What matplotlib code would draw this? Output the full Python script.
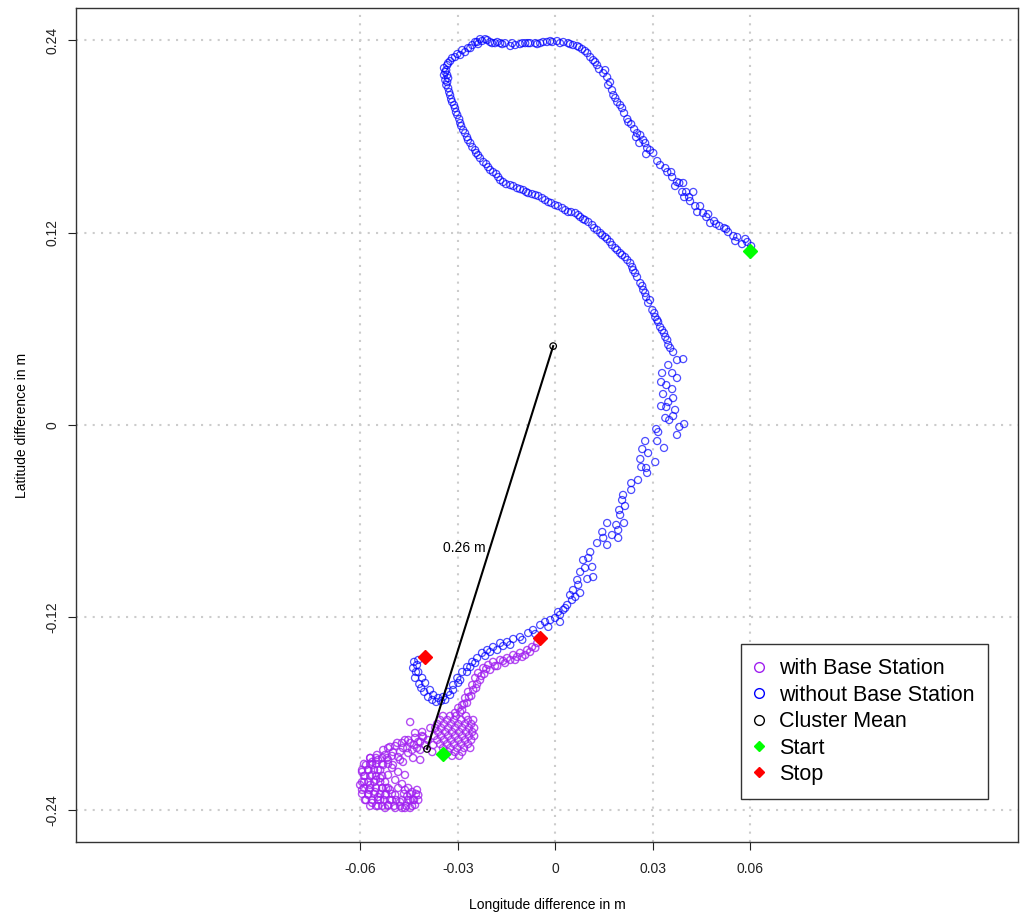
import numpy as np
import matplotlib
matplotlib.use("Agg")
import matplotlib.pyplot as plt
from matplotlib.lines import Line2D

plt.rcParams['font.family'] = ['Liberation Sans', 'DejaVu Sans']

# offsets from the reference position, in millimetres
# track recorded without the base station (blue)
lon_nobase = [
    60.2, 59.0, 57.4, 55.9, 54.7, 53.1, 51.9, 50.4, 48.8, 47.6, 47.0, 45.4, 44.5, 43.6, 42.4, 41.4,
    41.1, 40.2, 39.0, 39.3, 38.1, 37.4, 35.9, 35.6, 34.4, 32.2, 31.3, 30.1, 27.9, 28.2, 27.6, 25.8,
    26.1, 25.1, 24.2, 23.3, 22.1, 21.1, 19.9, 19.0, 17.8, 17.4, 16.2, 15.9, 14.7, 13.4, 12.8, 11.6,
    10.7, 9.8, 8.2, 6.7, 5.4, 3.9, 2.4, 0.5, -1.0, -2.6, -4.7, -6.2, -7.8, -9.3, -10.9, -12.4,
    -13.9, -15.5, -17.0, -18.6, -20.1, -21.6, -23.2, -24.7, -25.6, -26.9, -27.8, -29.3, -30.9, -32.4,
    -33.3, -33.6, -33.3, -33.3, -33.0, -32.4, -31.8, -30.9, -30.2, -29.3, -28.4, -27.2, -26.2, -24.7,
    -23.8, -22.2, -20.7, -19.2, -17.6, -16.1, -13.9, -11.8, -9.9, -8.4, -6.2, -4.1, -2.2, -0.1,
    2.1, 3.9, 6.1, 7.6, 9.1, 11.3, 12.8, 14.4, 15.9, 17.4, 19.0, 20.5, 22.1, 23.6, 24.5, 26.1,
    27.0, 27.9, 28.5, 29.8, 30.7, 31.3, 32.2, 33.4, 33.8, 34.7, 36.2, 39.3, 37.4, 34.7, 32.8, 35.9,
    37.4, 32.5, 34.1, 35.9, 33.1, 34.7, 36.2, 32.5, 34.1, 36.8, 33.8, 36.2, 35.0, 31.0, 31.6, 38.1,
    39.6, 37.4, 31.3, 33.4, 27.6, 26.7, 28.5, 26.1, 30.7, 26.4, 27.9, 28.2, 25.4, 23.3, 23.3, 20.8,
    20.5, 21.4, 19.6, 19.9, 21.1, 18.7, 15.9, 19.3, 17.4, 19.3, 14.4, 14.7, 12.8, 15.9, 10.7, 8.5,
    11.3, 7.6, 9.8, 6.7, 11.6, 5.4, 7.6, 5.1, 3.6, 2.4, 1.4, -0.1, -1.6, -3.2, -4.7, -6.9,
    -8.4, -10.9, -13.0, -14.9, -17.0, -19.2, -21.0, -22.6, -24.1, -25.6, -27.2, -28.7, -30.2, -31.5,
    -33.0, -34.6, -36.1, -37.6, -38.6, -40.1, -41.0, -42.2, -42.6, -42.2,
    1.4, -2.2, -6.2, -10.2, -13.9, -17.9, -21.6, -24.7, -27.2, -29.3, -31.5, -33.9,
    -36.7, -39.2, -41.3, -43.2, -43.8,
    -23.8, -26.2, -28.7, -30.2, -31.8, -33.0, -34.3, -34.3, -33.9,
    58.4, 55.3, 52.5, 49.4, 46.4, 43.0, 39.6, 36.8, 33.8, 29.1, 27.0, 24.8, 22.4, 20.5, 18.4, 16.8,
    15.3, 12.2, 9.1, 7.3, 4.5, 1.4, -1.6, -3.8, -5.6, -8.4, -10.2, -13.3, -16.4, -17.9, -19.5, -21.0,
    -22.6, -24.1,
    -33.9, -33.0, -33.6, -32.7, -32.1, -31.2, -30.6, -29.6, -29.0, -27.8, -26.9, -25.6, -24.4, -23.2,
    -21.3, -20.1, -18.2, -17.0, -15.2, -13.0, -10.9, -9.0, -7.2, -5.3, -3.2, -1.3, 0.8, 3.0, 4.8,
    7.0, 8.5, 10.1, 11.9, 13.8, 15.3, 16.8, 18.4, 19.9, 21.4, 23.0, 23.9, 25.1, 26.7, 27.6, 29.1,
    30.4, 31.6, 32.8, 34.4, 35.3,
    10.1, 9.1, 7.0, 4.5, 6.1, 3.0, 0.8,
    -16.1, -20.1, -26.2, -29.9, -32.4, -35.2, -37.9, -40.4, -41.9, -42.9, -43.5,
]
lat_nobase = [
    111.6, 114.1, 112.8, 117.2, 117.8, 120.3, 122.8, 124.1, 127.2, 125.9, 131.5, 132.2, 136.5, 132.8, 145.3, 139.6,
    142.1, 145.3, 145.3, 150.9, 150.9, 151.5, 154.6, 157.7, 157.7, 162.1, 164.6, 169.6, 168.9, 172.7, 175.8, 175.8,
    180.8, 182.0, 184.5, 187.6, 190.8, 194.5, 199.5, 201.4, 205.7, 208.8, 212.0, 216.9, 219.4, 221.9, 224.4, 227.5,
    229.4, 231.9, 234.4, 236.3, 236.9, 238.1, 238.8, 239.4, 238.8, 238.8, 238.1, 238.1, 238.1, 238.1, 237.5, 236.9,
    236.3, 238.1, 238.1, 238.1, 238.8, 240.6, 240.6, 238.8, 236.9, 235.0, 232.5, 230.7, 229.4, 226.9,
    224.4, 221.3, 218.2, 213.8, 210.1, 205.7, 201.4, 197.6, 193.3, 188.3, 183.9, 179.5, 175.8, 171.4,
    168.3, 164.0, 160.8, 157.7, 154.6, 151.5, 149.6, 147.7, 146.5, 144.6, 143.4, 141.5, 139.0, 137.1,
    135.3, 132.8, 132.2, 129.7, 127.8, 124.7, 121.6, 118.4, 116.0, 112.2, 109.1, 106.0, 102.9, 98.5, 94.8, 88.5,
    84.2, 79.8, 76.1, 71.7, 67.3, 65.5, 61.1, 57.4, 54.9, 49.9, 45.5, 41.1, 40.5, 37.4, 32.4, 32.4,
    29.3, 26.8, 24.9, 22.4, 19.3, 14.3, 16.8, 11.8, 11.2, 9.4, 4.4, 5.6, 3.1, -2.5, -4.4, -1.2,
    0.6, -6.2, -10.0, -14.3, -10.0, -15.0, -17.5, -21.2, -23.1, -26.2, -26.8, -29.9, -34.3, -36.2, -40.5, -43.6,
    -46.8, -50.5, -53.0, -56.1, -61.1, -62.3, -61.1, -65.5, -68.6, -70.4, -66.7, -70.4, -73.6, -74.8, -79.2, -84.2,
    -88.5, -91.6, -96.0, -96.6, -94.8, -102.9, -104.7, -109.1, -112.2, -115.3, -118.4, -120.3, -121.6, -122.8, -124.7, -127.8,
    -129.7, -132.2, -133.4, -135.3, -135.9, -138.4, -140.3, -142.1, -145.3, -147.7, -150.9, -154.0, -157.7, -162.1,
    -166.4, -169.6, -170.2, -168.3, -165.2, -160.8, -157.7, -154.0, -149.6, -146.5,
    -122.8, -125.9, -130.3, -134.0, -137.1, -140.3, -144.0, -148.4, -154.0, -159.0, -165.2, -171.4,
    -172.7, -169.6, -164.0, -157.7, -151.5,
    237.5, 235.0, 233.8, 231.3, 228.8, 225.7, 222.6, 218.2, 215.1,
    116.0, 114.7, 122.2, 125.3, 129.7, 136.5, 142.1, 149.0, 160.2, 171.4, 177.7, 179.5, 188.9, 197.6, 203.9, 213.8,
    221.3, 226.3, 233.2, 235.6, 237.5, 238.1, 239.4, 238.8, 237.5, 238.1, 238.1, 238.1, 237.5, 238.8, 238.1, 240.0,
    239.4, 238.8,
    220.1, 216.3, 212.0, 207.6, 203.2, 199.5, 195.1, 190.8, 186.4, 182.0, 177.7, 173.3, 169.6, 166.4,
    162.7, 159.0, 156.5, 152.7, 150.2, 149.0, 147.1, 145.3, 144.0, 142.8, 140.3, 138.4, 136.5, 134.0, 132.8,
    130.9, 128.4, 126.6, 122.8, 119.7, 117.2, 114.1, 110.3, 107.2, 104.7, 101.0, 96.6, 92.3, 86.7, 82.3, 77.9,
    69.8, 64.2, 59.2, 53.0, 48.0,
    -82.9, -89.1, -99.7, -106.0, -107.2, -114.1, -116.6,
    -137.8, -141.5, -150.9, -160.8, -168.3, -172.1, -171.4, -166.4, -161.5, -154.0, -147.7,
]

# track recorded with the base station (purple)
lon_base = [
    -5.6, -7.2, -8.7, -10.9, -13.0, -14.9, -17.0, -19.2, -20.7, -22.2, -23.8, -24.7, -25.6, -26.9, -27.8, -28.7, -29.9, -30.9,
    -7.8, -10.2, -12.4, -15.5, -17.9, -20.1, -21.9, -23.2, -24.4, -25.9, -27.2, -28.7,
    -6.2, -9.3, -11.8, -13.9, -16.1, -18.6, -21.3, -22.8, -24.1, -25.3, -26.6, -28.1, -29.3, -30.6,
    -34.6, -32.4, -27.5,
    -35.5, -33.3, -31.2, -29.0, -26.9, -25.3,
    -36.4, -34.3, -32.1, -29.9, -27.8, -25.9,
    -37.0, -35.2, -33.0, -30.9, -28.7, -26.6, -25.0,
    -36.1, -33.9, -31.8, -29.6, -27.5, -25.6,
    -37.3, -35.2, -33.0, -30.9, -28.7, -26.6, -25.0,
    -36.4, -34.3, -32.1, -29.9, -27.8, -25.9,
    -35.5, -33.3, -31.2, -29.0, -26.9,
    -34.6, -32.4, -30.2, -28.1, -26.2,
    -33.0, -30.9, -28.7,
    -31.8, -29.6,
    -39.2, -40.7, -42.2, -37.6, -41.6, -37.9,
    -43.2, -41.0, -46.3, -48.7, -44.7, -50.9, -46.9, -42.6, -53.0, -50.0, -45.3, -54.9, -48.4, -51.8, -43.8, -56.4, -50.0, -46.9,
    -40.1, -44.1, -47.8, -52.4, -41.6, -44.7, -38.5,
    -51.5, -49.3, -47.2, -45.3, -43.2, -41.0, -50.3, -47.8, -45.6, -43.5, -41.6,
    -54.6, -56.4, -57.6, -58.6, -56.4, -54.6, -58.9, -57.0, -55.2, -59.5, -57.6, -55.5, -53.3, -58.6, -56.4, -53.9, -51.5, -52.4, -50.9,
    -58.3, -59.5, -60.1, -57.3, -54.6, -50.3, -52.4, -54.6, -47.2, -43.8, -45.6, -57.0, -53.0, -51.5, -53.9, -52.1,
    -57.0, -55.2, -53.3,
    -58.9, -57.0, -55.2, -53.3, -51.5,
    -59.5, -57.6, -55.8, -53.9,
    -58.9, -57.0, -55.2, -53.3,
    -59.5, -57.6, -55.8, -53.9,
    -58.9, -57.0, -55.2, -53.3, -51.5,
    -59.5, -57.6, -55.8, -53.9, -52.1, -50.3, -46.6, -44.7, -42.9,
    -58.3, -56.4, -54.6, -52.7, -50.9, -49.0, -47.2, -45.3, -43.5,
    -57.0, -55.2, -53.3, -51.5, -49.6, -47.8, -45.9, -44.1,
    -42.2, -42.6,
    -49.3, -47.8, -46.3, -49.3, -44.7, -44.1, -46.3, -48.4, -43.2, -42.2, -44.7,
    -50.3, -48.4, -46.3, -51.5, -49.3, -47.2, -45.3, -52.4,
]
lat_base = [
    -135.9, -138.4, -140.3, -142.1, -143.4, -145.3, -146.5, -147.7, -149.6, -151.5, -154.6, -157.7, -162.1, -166.4, -170.2, -174.6, -176.4, -179.5,
    -141.5, -144.6, -146.5, -148.4, -150.3, -152.7, -155.2, -159.0, -164.0, -168.9, -173.3, -177.7,
    -139.0, -143.4, -144.6, -146.5, -147.1, -150.3, -152.1, -156.5, -161.5, -165.2, -169.6, -173.9, -178.9, -181.4,
    -181.4, -181.4, -181.4,
    -183.9, -183.9, -183.9, -183.9, -183.9, -183.9,
    -186.4, -186.4, -186.4, -186.4, -186.4, -186.4,
    -188.9, -188.9, -188.9, -188.9, -188.9, -188.9, -188.9,
    -191.4, -191.4, -191.4, -191.4, -191.4, -191.4,
    -193.9, -193.9, -193.9, -193.9, -193.9, -193.9, -193.9,
    -196.4, -196.4, -196.4, -196.4, -196.4, -196.4,
    -198.9, -198.9, -198.9, -198.9, -198.9,
    -201.4, -201.4, -201.4, -201.4, -201.4,
    -203.9, -203.9, -203.9,
    -206.3, -206.3,
    -196.4, -194.5, -197.6, -199.5, -202.6, -203.9,
    -192.0, -191.4, -196.4, -198.2, -198.2, -200.7, -201.4, -201.4, -202.6, -203.9, -204.5, -205.7, -207.0, -207.6, -207.6, -210.1, -212.0, -210.1,
    -199.5, -202.6, -208.8, -205.7, -208.8, -185.2, -188.9,
    -201.4, -200.1, -198.2, -196.4, -195.1, -193.9, -206.3, -203.9, -201.4, -199.5, -197.6,
    -208.8, -212.0, -215.1, -218.8, -218.2, -215.1, -222.6, -224.4, -221.3, -227.5, -230.7, -228.8, -226.3, -233.8, -235.6, -233.8, -236.9, -230.7, -227.5,
    -212.0, -216.3, -224.4, -227.5, -231.9, -233.8, -238.8, -237.5, -238.8, -233.8, -231.3, -207.6, -212.0, -208.8, -220.1, -226.3,
    -207.6, -207.6, -207.6,
    -211.3, -211.3, -211.3, -211.3, -211.3,
    -215.1, -215.1, -215.1, -215.1,
    -218.8, -218.8, -218.8, -218.8,
    -222.6, -222.6, -222.6, -222.6,
    -226.3, -226.3, -226.3, -226.3, -226.3,
    -230.0, -230.0, -230.0, -230.0, -230.0, -230.0, -230.0, -230.0, -230.0,
    -233.8, -233.8, -233.8, -233.8, -233.8, -233.8, -233.8, -233.8, -233.8,
    -237.5, -237.5, -237.5, -237.5, -237.5, -237.5, -237.5, -237.5,
    -233.8, -227.5,
    -230.7, -235.0, -238.8, -238.8, -233.8, -228.8, -227.5, -226.3, -236.9, -230.7, -238.8,
    -213.8, -216.3, -218.2, -218.2, -221.3, -223.8, -226.3, -222.6,
]

# cluster means (mm): without base station, with base station
mean_lon = [-0.7, -39.5]
mean_lat = [49.2, -202.0]
dist_label = "0.26 m"

# start / stop points (mm): first entry without base station, second with
start_lon = [60.0, -34.5]
start_lat = [108.5, -205.1]
stop_lon = [-40.1, -4.7]
stop_lat = [-144.6, -132.8]

x_ticks = [-0.06, -0.03, 0, 0.03, 0.06]
x_tick_labels = ["-0.06", "-0.03", "0", "0.03", "0.06"]
y_ticks = [-0.24, -0.12, 0, 0.12, 0.24]
y_tick_labels = ["-0.24", "-0.12", "0", "0.12", "0.24"]

mm = 1000.0
purple = "#A020F0"
blue = "#0000FF"

fig = plt.figure(figsize=(10.29, 9.15), dpi=100)
ax = fig.add_axes([76 / 1029, 73 / 915, 942 / 1029, 834 / 915])
ax.set_xlim(-0.1475, 0.1423)
ax.set_ylim(-0.26, 0.26)

ax.set_xticks(x_ticks)
ax.set_xticklabels(x_tick_labels)
ax.set_yticks(y_ticks)
ax.set_yticklabels(y_tick_labels, rotation=90, va="center")
ax.tick_params(axis="both", labelsize=10, length=6, width=0.8, colors="#222222")
ax.tick_params(axis="x", pad=8.5)
ax.tick_params(axis="y", pad=6)
ax.grid(True, color="#CCCCCC", linestyle=(0, (1, 3)), linewidth=1.5)
ax.set_axisbelow(True)
for sp in ax.spines.values():
    sp.set_color("#333333")
    sp.set_linewidth(1.0)

ax.set_xlabel("Longitude difference in m", fontsize=10, labelpad=15.5)
ax.set_ylabel("Latitude difference in m", fontsize=10, labelpad=12)

ax.scatter(np.array(lon_base) / mm, np.array(lat_base) / mm, s=26, facecolors="none",
           edgecolors=purple, linewidths=1.0, alpha=0.8, zorder=3)
ax.scatter(np.array(lon_nobase) / mm, np.array(lat_nobase) / mm, s=26, facecolors="none",
           edgecolors=blue, linewidths=0.9, alpha=0.7, zorder=3)

# line joining the two cluster means
ax.plot(np.array(mean_lon) / mm, np.array(mean_lat) / mm, color="black", linewidth=1.5, zorder=4)
ax.scatter(np.array(mean_lon) / mm, np.array(mean_lat) / mm, s=22, facecolors="none",
           edgecolors="black", linewidths=0.9, zorder=5)
ax.text(-28.1 / mm, -76.7 / mm, dist_label, fontsize=10, ha="center", va="center", zorder=5)

ax.plot(np.array(start_lon) / mm, np.array(start_lat) / mm, "D", color="#00FF00",
        markersize=7, linestyle="none", zorder=6)
ax.plot(np.array(stop_lon) / mm, np.array(stop_lat) / mm, "D", color="#FF0000",
        markersize=7, linestyle="none", zorder=6)

handles = [
    Line2D([], [], marker="o", linestyle="none", markerfacecolor="none", markeredgecolor=purple, markersize=7),
    Line2D([], [], marker="o", linestyle="none", markerfacecolor="none", markeredgecolor=blue, markersize=7),
    Line2D([], [], marker="o", linestyle="none", markerfacecolor="none", markeredgecolor="black", markersize=7),
    Line2D([], [], marker="D", linestyle="none", color="#00FF00", markersize=5),
    Line2D([], [], marker="D", linestyle="none", color="#FF0000", markersize=5),
]
labels = ["with Base Station", "without Base Station", "Cluster Mean", "Start", "Stop"]
leg = ax.legend(handles, labels, loc="lower left", bbox_to_anchor=(0.706, 0.0516),
                fontsize=15.5, frameon=True, fancybox=False, framealpha=1,
                edgecolor="#333333", handlelength=0.4, handletextpad=0.7,
                labelspacing=0.25, borderpad=0.65, borderaxespad=0)
leg.get_frame().set_linewidth(1.0)

fig.savefig("out.png", dpi=100)
